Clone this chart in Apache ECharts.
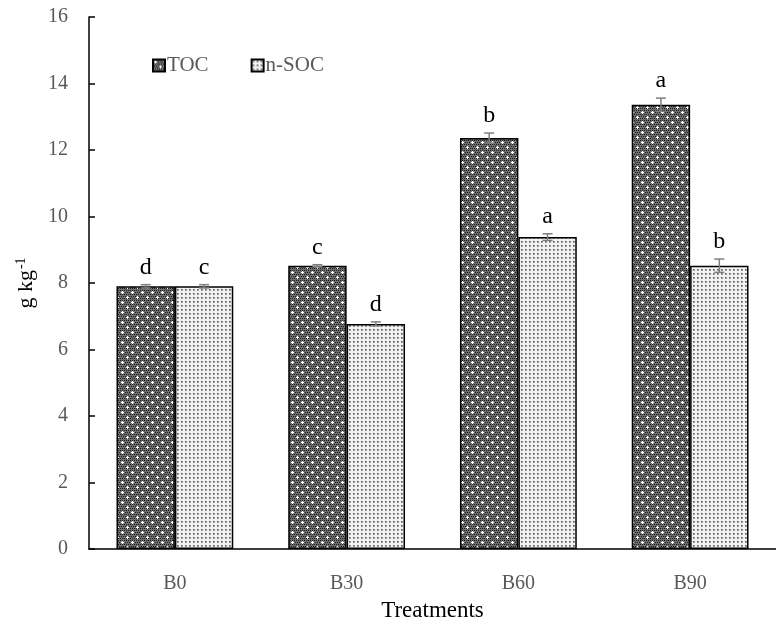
<!DOCTYPE html>
<html>
<head>
<meta charset="utf-8">
<script src="https://cdn.jsdelivr.net/npm/echarts@6/dist/echarts.min.js"></script>
<style>
  html, body { margin: 0; padding: 0; background: #fff; }
  #chart { width: 776px; height: 630px; }
</style>
</head>
<body>
<div id="chart"></div>
<script>
// Soil organic carbon by biochar treatment
const categories = ['B0', 'B30', 'B60', 'B90'];
const tocValues = [7.9, 8.52, 12.36, 13.36];
const tocErrors = [0.05, 0.03, 0.15, 0.2];
const tocLetters = ['d', 'c', 'b', 'a'];
const nsocValues = [7.9, 6.77, 9.38, 8.52];
const nsocErrors = [0.05, 0.06, 0.1, 0.2];
const nsocLetters = ['c', 'd', 'a', 'b'];
const yTicks = [0, 2, 4, 6, 8, 10, 12, 14, 16];

const FONT = '"Liberation Serif", "Times New Roman", serif';

// Dark crosshatch with white dots (TOC)
function darkPattern() {
  const c = document.createElement('canvas');
  c.width = 10; c.height = 10;
  const g = c.getContext('2d');
  g.fillStyle = '#6e6e6e';
  g.fillRect(0, 0, 10, 10);
  g.fillStyle = '#1e1e1e';
  for (let y = 0; y < 10; y += 2) {
    for (let x = (y % 4 === 0 ? 0 : 1); x < 10; x += 2) g.fillRect(x, y, 1, 1);
  }
  g.fillStyle = '#ffffff';
  [[2, 2], [7, 7]].forEach(([x, y]) => {
    g.fillRect(x - 1, y, 3, 1);
    g.fillRect(x, y - 1, 1, 3);
  });
  return c;
}

// Light dotted fill (n-SOC)
function lightPattern() {
  const c = document.createElement('canvas');
  c.width = 4; c.height = 4;
  const g = c.getContext('2d');
  g.fillStyle = '#f2f2f2';
  g.fillRect(0, 0, 4, 4);
  g.fillStyle = '#9a9a9a';
  g.fillRect(1, 1, 2, 2);
  g.fillStyle = '#555555';
  g.fillRect(1, 1, 1, 1);
  return c;
}

const tocFill = { image: darkPattern(), repeat: 'repeat' };
const nsocFill = { image: lightPattern(), repeat: 'repeat' };

const BAR_FRAC = 0.34;

function errorSeries(values, errors, letters, side) {
  return {
    type: 'custom',
    z: 5,
    silent: true,
    data: values.map((v, i) => [i, v, errors[i]]),
    renderItem: function (params, api) {
      const i = api.value(0), v = api.value(1), e = api.value(2);
      const band = api.size([1, 0])[0];
      const dx = side * band * BAR_FRAC / 2;
      const top = api.coord([i, v + e]);
      const bot = api.coord([i, v - e]);
      const x = top[0] + dx;
      const cap = 5;
      const st = { stroke: '#7f7f7f', lineWidth: 1.5 };
      return {
        type: 'group',
        children: [
          { type: 'line', shape: { x1: x, y1: top[1], x2: x, y2: bot[1] }, style: st },
          { type: 'line', shape: { x1: x - cap, y1: top[1], x2: x + cap, y2: top[1] }, style: st },
          { type: 'line', shape: { x1: x - cap, y1: bot[1], x2: x + cap, y2: bot[1] }, style: st },
          {
            type: 'text',
            style: {
              x: x, y: top[1] - 5,
              text: letters[i],
              align: 'center', verticalAlign: 'bottom',
              font: '24px ' + FONT, fill: '#000'
            }
          }
        ]
      };
    }
  };
}

const chart = echarts.init(document.getElementById('chart'), null, { renderer: 'canvas' });

chart.setOption({
  animation: false,
  backgroundColor: '#fff',
  textStyle: { fontFamily: FONT },
  grid: { left: 89, right: 0, top: 17, bottom: 81, containLabel: false },
  legend: {
    left: 147, top: 50,
    itemWidth: 12, itemHeight: 12, itemGap: 42,
    icon: 'rect',
    textStyle: { fontFamily: FONT, fontSize: 21, color: '#595959', padding: [0, 0, 0, -3] },
    data: ['TOC', 'n-SOC']
  },
  xAxis: {
    type: 'category',
    data: categories,
    name: 'Treatments',
    nameLocation: 'middle',
    nameGap: 50,
    nameTextStyle: { fontFamily: FONT, fontSize: 23, color: '#000' },
    axisLine: { lineStyle: { color: '#000', width: 1.5 } },
    axisTick: { inside: true, length: 5, lineStyle: { color: '#000', width: 1.5 } },
    axisLabel: { fontFamily: FONT, fontSize: 20, color: '#595959', margin: 25 }
  },
  yAxis: {
    type: 'value',
    min: yTicks[0], max: yTicks[yTicks.length - 1], interval: 2,
    name: '{a|g kg}{s|-1}',
    nameLocation: 'middle',
    nameGap: 50,
    nameRotate: 90,
    nameTextStyle: {
      rich: {
        a: { fontFamily: FONT, fontSize: 22, color: '#000' },
        s: { fontFamily: FONT, fontSize: 14, color: '#000', verticalAlign: 'top', padding: [0, 0, 9, 1] }
      }
    },
    splitLine: { show: false },
    axisLine: { show: true, lineStyle: { color: '#000', width: 1.5 } },
    axisTick: { show: true, inside: true, length: 6, lineStyle: { color: '#000', width: 1.5 } },
    axisLabel: { fontFamily: FONT, fontSize: 20, color: '#595959', margin: 21 }
  },
  series: [
    {
      name: 'TOC', type: 'bar',
      data: tocValues,
      barWidth: (BAR_FRAC * 100) + '%', barGap: '0%',
      itemStyle: { color: tocFill, borderColor: '#000', borderWidth: 1.5 }
    },
    {
      name: 'n-SOC', type: 'bar',
      data: nsocValues,
      barWidth: (BAR_FRAC * 100) + '%', barGap: '0%',
      itemStyle: { color: nsocFill, borderColor: '#000', borderWidth: 1.5 }
    },
    errorSeries(tocValues, tocErrors, tocLetters, -1),
    errorSeries(nsocValues, nsocErrors, nsocLetters, 1)
  ]
});
</script>
</body>
</html>
